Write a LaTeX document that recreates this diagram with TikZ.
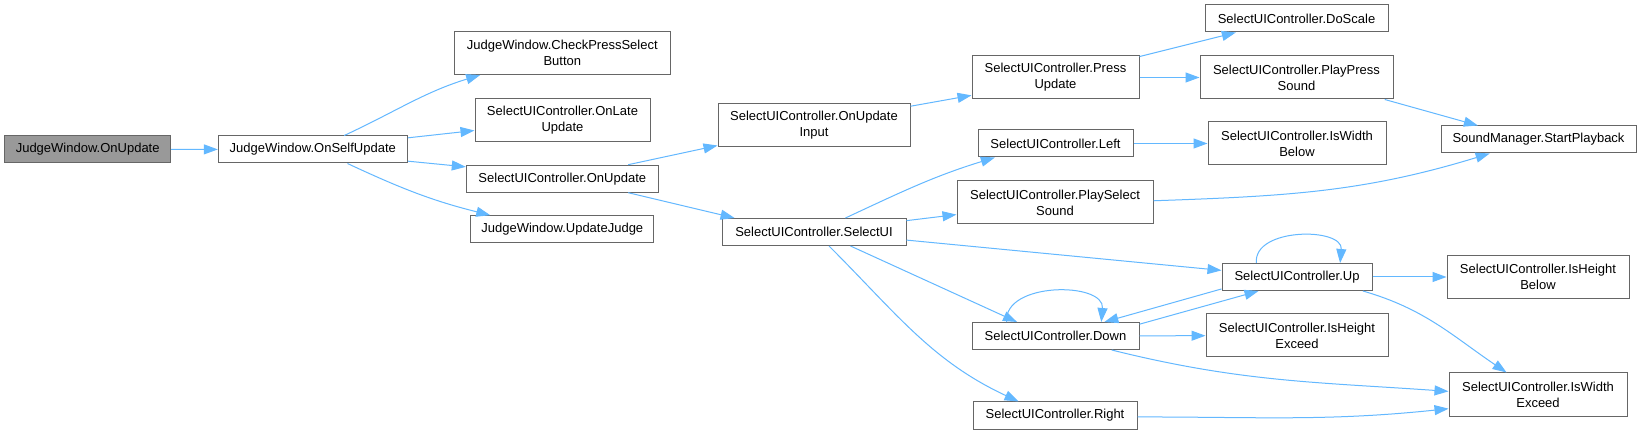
\documentclass[tikz,border=0pt]{standalone}
\usepackage{fontspec}
\setmainfont{Liberation Sans}
\usetikzlibrary{arrows.meta}
\definecolor{callblue}{HTML}{63B8FF}
\definecolor{boxgray}{HTML}{666666}
\definecolor{rootgray}{HTML}{999999}
\tikzset{
  fn/.style={draw=boxgray, fill=white, line width=1pt, inner sep=0pt,
    minimum height=27pt, align=center, font=\fontsize{13pt}{16pt}\selectfont},
  fnii/.style={fn, minimum height=43pt},
  root/.style={fn, fill=rootgray},
  call/.style={draw=callblue, line width=1pt, -{Triangle[length=14pt,width=10pt]}}
}

\begin{document}
\begin{tikzpicture}[x=1pt,y=1pt]
\fill[white] (0,0) rectangle (1641,-435);
\useasboundingbox (0,0) rectangle (1641,-435);

% functions
\node[root, minimum width=166pt] (jwonupdate) at (87.7,-149.3) {JudgeWindow.OnUpdate};
\node[fn, minimum width=189pt] (onselfupdate) at (312.8,-149.5) {JudgeWindow.OnSelfUpdate};
\node[fnii, minimum width=216pt] (checkpress) at (562.3,-53) {JudgeWindow.CheckPressSelect\\Button};
\node[fnii, minimum width=175pt] (onlateupdate) at (562.5,-119.7) {SelectUIController.OnLate\\Update};
\node[fn, minimum width=192pt] (uionupdate) at (562.3,-178.7) {SelectUIController.OnUpdate};
\node[fn, minimum width=183pt] (updatejudge) at (562.3,-229.2) {JudgeWindow.UpdateJudge};
\node[fnii, minimum width=192pt] (onupdateinput) at (814,-125) {SelectUIController.OnUpdate\\Input};
\node[fn, minimum width=184pt] (selectui) at (814,-232) {SelectUIController.SelectUI};
\node[fnii, minimum width=167pt] (pressupdate) at (1055.5,-77.5) {SelectUIController.Press\\Update};
\node[fn, minimum width=155pt] (left) at (1055.5,-143.5) {SelectUIController.Left};
\node[fnii, minimum width=196pt] (playselect) at (1055,-202.5) {SelectUIController.PlaySelect\\Sound};
\node[fn, minimum width=167pt] (down) at (1055.5,-336) {SelectUIController.Down};
\node[fn, minimum width=164pt] (right) at (1055,-415.5) {SelectUIController.Right};
\node[fn, minimum width=183pt] (doscale) at (1296.5,-18.5) {SelectUIController.DoScale};
\node[fnii, minimum width=193pt] (playpress) at (1296.5,-77.5) {SelectUIController.PlayPress\\Sound};
\node[fnii, minimum width=178pt] (iswidthbelow) at (1297,-143.5) {SelectUIController.IsWidth\\Below};
\node[fn, minimum width=150pt] (up) at (1297,-277) {SelectUIController.Up};
\node[fnii, minimum width=182pt] (isheightexceed) at (1297,-335.5) {SelectUIController.IsHeight\\Exceed};
\node[fn, minimum width=195pt] (startplayback) at (1538.5,-139.5) {SoundManager.StartPlayback};
\node[fnii, minimum width=182pt] (isheightbelow) at (1538,-277) {SelectUIController.IsHeight\\Below};
\node[fnii, minimum width=178pt] (iswidthexceed) at (1538,-394.5) {SelectUIController.IsWidth\\Exceed};

% calls
\draw[call] (jwonupdate) -- (onselfupdate);
\draw[call] (onselfupdate.24) to[out=25,in=197] (checkpress.195);
\draw[call] (onselfupdate.7) -- (onlateupdate.187);
\draw[call] (onselfupdate.-7) -- (uionupdate.173);
\draw[call] (onselfupdate.-22) to[out=-25,in=166] (updatejudge.169);
\draw[call] (uionupdate.12) -- (onupdateinput.192);
\draw[call] (uionupdate.-12) -- (selectui.170);
\draw[call] (onupdateinput.11) -- (pressupdate.192);
\draw[call] (pressupdate.14) -- (doscale.193);
\draw[call] (pressupdate) -- (playpress);
\draw[call] (playpress.-14) -- (startplayback.167);
\draw[call] (selectui.24) to[out=25,in=197] (left.193);
\draw[call] (selectui.7) -- (playselect.187);
\draw[call] (playselect.1.5) to[out=2,in=197] (startplayback.196);
\draw[call] (left) -- (iswidthbelow);
\draw[call] (selectui.-5.6) -- (up.175);
\draw[call] (selectui.-21.5) -- (down.160);
\draw[call] (selectui.-43) to[out=-45,in=155] (right.159);
\draw[call] (down.164) to[out=95,in=85,looseness=1.1] (down.17);
\draw[call] (down.8) -- (up.200);
\draw[call] (up.189) -- (down.16);
\draw[call] (down) -- (isheightexceed);
\draw[call] (down.-14) to[out=-14,in=176] (iswidthexceed.178);
\draw[call] (up.161) to[out=95,in=85,looseness=1.1] (up.18);
\draw[call] (up) -- (isheightbelow);
\draw[call] (up.-12.5) to[out=-16,in=146] (iswidthexceed.145);
\draw[call] (right.-1.7) to[out=0,in=186] (iswidthexceed.189);
\end{tikzpicture}
\end{document}
